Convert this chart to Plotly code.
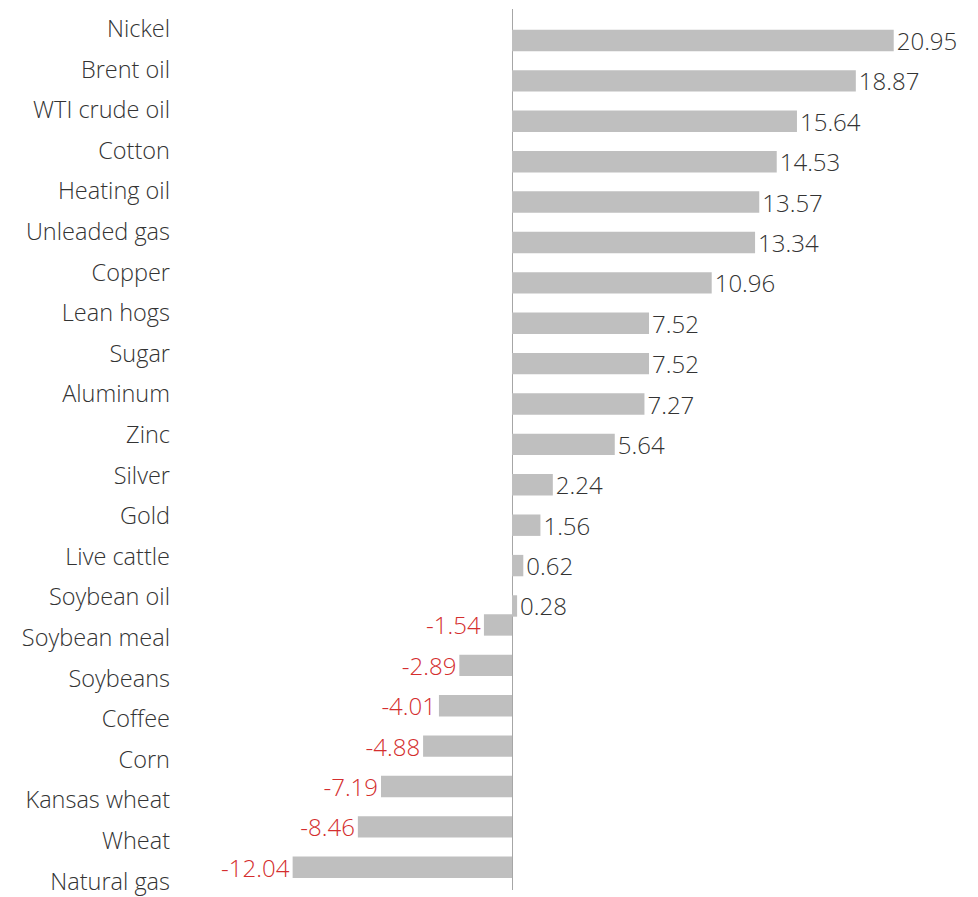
import plotly.graph_objects as go

commodities = ["Nickel", "Brent oil", "WTI crude oil", "Cotton", "Heating oil",
               "Unleaded gas", "Copper", "Lean hogs", "Sugar", "Aluminum", "Zinc",
               "Silver", "Gold", "Live cattle", "Soybean oil", "Soybean meal",
               "Soybeans", "Coffee", "Corn", "Kansas wheat", "Wheat", "Natural gas"]
changes = [20.95, 18.87, 15.64, 14.53, 13.57, 13.34, 10.96, 7.52, 7.52, 7.27, 5.64,
           2.24, 1.56, 0.62, 0.28, -1.54, -2.89, -4.01, -4.88, -7.19, -8.46, -12.04]

BAR = "#bfbfbf"
POS = "#333333"
NEG = "#d42e2e"
FONT = "Open Sans"

gainers = [(c, v) for c, v in zip(commodities, changes) if v >= 0]
losers = [(c, v) for c, v in zip(commodities, changes) if v < 0]

fig = go.Figure()
for group, color, offset in ((gainers, POS, 0.0), (losers, NEG, -0.53)):
    fig.add_trace(go.Bar(
        x=[v for _, v in group], y=[c for c, _ in group], orientation="h",
        marker=dict(color=BAR, line=dict(width=0)),
        text=[f"{v:.2f}" for _, v in group], textposition="outside",
        constraintext="none", cliponaxis=False,
        textfont=dict(family=FONT, size=24, weight=300, color=color),
        width=0.53, offset=offset, hoverinfo="skip", showlegend=False,
    ))
# invisible trace that carries the category labels on their own axis
fig.add_trace(go.Scatter(
    x=[0] * len(commodities), y=commodities, yaxis="y2", mode="markers",
    marker=dict(opacity=0), hoverinfo="skip", showlegend=False,
))

fig.update_layout(
    width=978, height=897, barmode="overlay",
    margin=dict(l=175, r=10, t=9, b=7, autoexpand=False),
    paper_bgcolor="white", plot_bgcolor="white",
    font=dict(family=FONT, color=POS),
    xaxis=dict(range=[-18.496, 25.027], showgrid=False, showticklabels=False,
               automargin=False,
               zeroline=True, zerolinecolor="#a6a6a6", zerolinewidth=1, ticks=""),
    yaxis=dict(type="category", categoryorder="array", categoryarray=commodities,
               range=[21.297, -0.515], showticklabels=False,
               automargin=False, showgrid=False, zeroline=False, ticks=""),
    yaxis2=dict(type="category", categoryorder="array", categoryarray=commodities,
                overlaying="y", side="left", anchor="x",
                range=[21.215, -0.485], showgrid=False, zeroline=False, ticks="",
                automargin=False, ticklabelstandoff=4,
                tickfont=dict(family=FONT, size=23.5, weight=300, color=POS)),
)

fig.write_html("out.html", config={"displayModeBar": False},
               post_script="document.body.style.margin='0';document.body.style.overflow='hidden';")
